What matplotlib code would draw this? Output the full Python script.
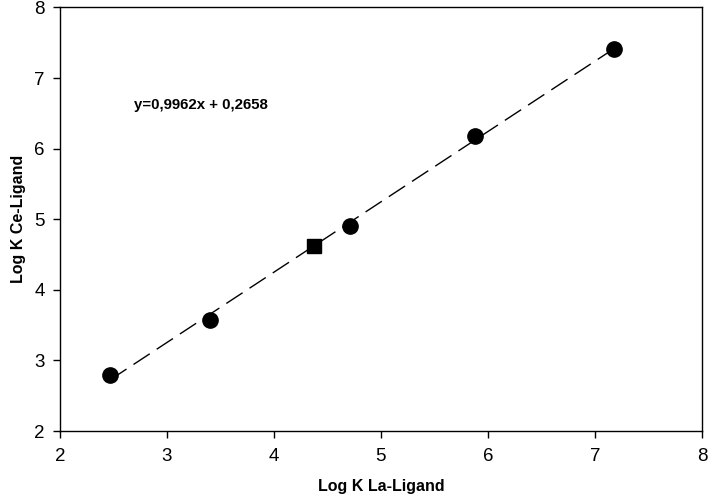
import matplotlib
matplotlib.use("Agg")
import matplotlib.pyplot as plt
import numpy as np

plt.rcParams['font.family'] = ['Liberation Sans', 'DejaVu Sans']

# Data
circle_x = [2.47, 3.40, 4.71, 5.88, 7.18]
circle_y = [2.79, 3.57, 4.90, 6.18, 7.41]
square_x = [4.37]
square_y = [4.62]
slope = 0.9962
intercept = 0.2658
fit_range = [2.47, 7.18]
equation_label = "y=0,9962x + 0,2658"
ticks = [2, 3, 4, 5, 6, 7, 8]

fig = plt.figure(figsize=(7.09, 5.03), dpi=100)
ax = fig.add_axes([0.0846, 0.1431, 0.9054, 0.8420])

fx = np.array(fit_range)
ax.plot(fx, slope * fx + intercept, color='black', lw=1.0,
        dashes=(14, 6), zorder=1)
ax.plot(circle_x, circle_y, 'o', color='black', markersize=11, zorder=2)
ax.plot(square_x, square_y, 's', color='black', markersize=9.5, zorder=2)

ax.set_xlim(2, 8)
ax.set_ylim(2, 8)
ax.set_xticks(ticks)
ax.set_yticks(ticks)
ax.tick_params(direction='out', length=5, width=1, labelsize=13.5)
ax.tick_params(axis='x', pad=7)
ax.tick_params(axis='y', pad=6)
for s in ax.spines.values():
    s.set_linewidth(1.0)

ax.set_xlabel("Log K La-Ligand", fontsize=11.5, fontweight='bold', labelpad=10)
ax.set_ylabel("Log K Ce-Ligand", fontsize=11.5, fontweight='bold', labelpad=6)
ax.text(2.69, 6.62, equation_label, fontsize=10.8, fontweight='bold',
        ha='left', va='center')

fig.savefig("out.png", dpi=100)
